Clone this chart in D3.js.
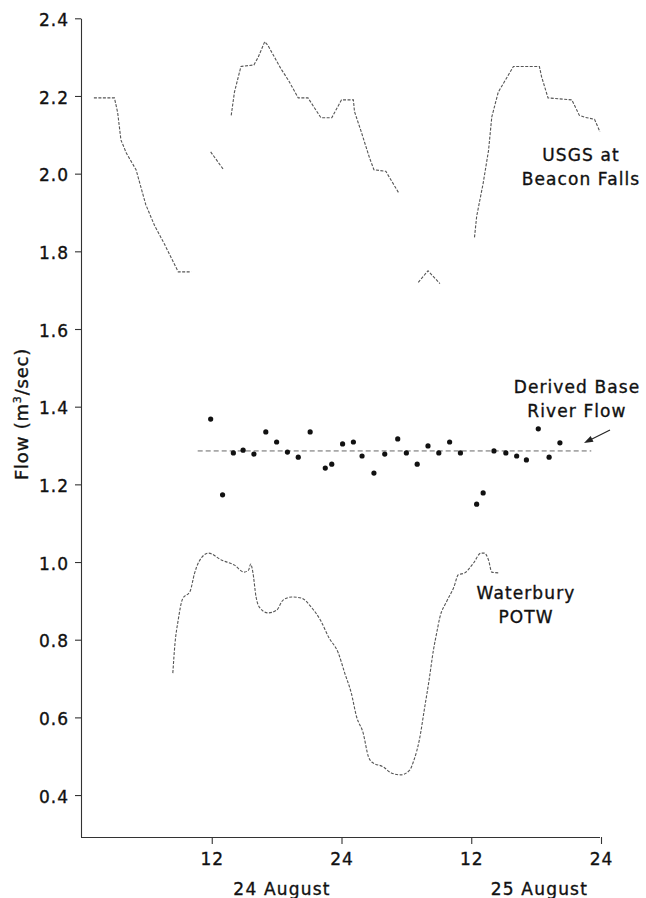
<!DOCTYPE html>
<html>
<head>
<meta charset="utf-8">
<script src="https://cdn.jsdelivr.net/npm/d3@7"></script>
<style>
  html, body { margin: 0; padding: 0; background: #fff; }
  svg text { font-family: "DejaVu Sans", "Liberation Sans", sans-serif; fill: #111; stroke: #111; stroke-width: 0.35px; }
</style>
</head>
<body>
<svg id="chart" width="646" height="898"></svg>
<script>
// Hours counted from 00:00 on 24 August; flows in m^3/sec.

// USGS gauge at Beacon Falls (null = missing record)
const usgsHours = [1.1, 3.0, 3.3, 3.6, 4.1, 5.0, 5.9, 6.7, 7.6, 8.9, 10.1, 11.0,
  11.9, 13.1, 13.5,
  13.8, 14.1, 14.7, 15.9, 16.3, 16.9, 17.2, 18.4, 19.1, 20.0, 20.9, 22.1, 23.1,
  24.0, 25.1, 25.2, 25.8, 26.6, 27.0, 28.1, 29.3, 30.2,
  31.1, 32.0, 33.1, 34.5,
  36.3, 36.5, 37.1, 37.6, 37.9, 38.5, 39.9, 42.3, 42.5, 43.1, 45.3, 46.0, 46.5, 47.4, 47.9];
const usgsFlow = [2.195, 2.195, 2.157, 2.087, 2.053, 2.01, 1.92, 1.867, 1.82, 1.747, 1.747, null,
  2.056, 2.01, null,
  2.15, 2.21, 2.276, 2.28, 2.30, 2.34, 2.33, 2.27, 2.24, 2.195, 2.195, 2.144, 2.144,
  2.19, 2.19, 2.16, 2.11, 2.04, 2.01, 2.006, 1.95, null,
  1.72, 1.75, 1.717, null,
  1.836, 1.89, 1.975, 2.06, 2.146, 2.21, 2.276, 2.276, 2.25, 2.195, 2.19, 2.15, 2.145, 2.14, 2.108];

// Waterbury POTW discharge
const potwHours = [8.4, 8.6, 8.9, 9.3, 10.0, 10.4, 10.8, 11.7, 12.9, 14.1, 15.0, 15.4, 15.6, 15.8,
  16.1, 16.4, 17.2, 18.0, 18.6, 19.4, 20.3, 21.2, 22.1, 22.8, 23.7, 24.3, 24.9, 25.4,
  26.0, 26.5, 26.8, 27.9, 28.6, 29.5, 30.3, 30.7, 31.2, 31.7, 32.1, 32.5, 32.8, 33.1,
  33.7, 34.4, 34.8, 35.4, 36.2, 36.9, 37.2, 37.6, 37.9, 38.6];
const potwFlow = [0.714, 0.79, 0.851, 0.905, 0.925, 0.97, 1.0, 1.023, 1.005, 0.992, 0.974, 0.979, 0.995, 0.974,
  0.91, 0.884, 0.869, 0.876, 0.902, 0.91, 0.907, 0.884, 0.848, 0.807, 0.766, 0.714, 0.663, 0.601,
  0.56, 0.498, 0.485, 0.472, 0.457, 0.452, 0.464, 0.49, 0.542, 0.627, 0.696, 0.773, 0.817, 0.858,
  0.897, 0.936, 0.967, 0.972, 0.997, 1.023, 1.023, 1.005, 0.974, 0.972];

// Derived base river flow: hourly estimates and the fitted constant
const baseHours = [11.9, 13.0, 14.0, 14.9, 15.9, 17.0, 18.0, 19.0, 20.0, 21.1, 22.5, 23.1,
  24.1, 25.1, 25.9, 27.0, 28.0, 29.2, 30.0, 31.0, 32.0, 33.0, 34.0, 35.0,
  36.5, 37.1, 38.1, 39.2, 40.2, 41.1, 42.2, 43.2, 44.2];
const baseFlow = [1.368, 1.173, 1.281, 1.288, 1.278, 1.335, 1.309, 1.283, 1.27, 1.335, 1.242, 1.252,
  1.304, 1.309, 1.273, 1.229, 1.278, 1.317, 1.281, 1.252, 1.299, 1.281, 1.309, 1.281,
  1.149, 1.178, 1.286, 1.281, 1.273, 1.263, 1.343, 1.27, 1.307];
const baseLineHours = [10.7, 47.1];
const baseLineFlow = 1.286;

// Axis ticks and labels
const yTicks = [0.4, 0.6, 0.8, 1.0, 1.2, 1.4, 1.6, 1.8, 2.0, 2.2, 2.4];
const xTicks = [12, 24, 36, 48];
const xTickLabels = ["12", "24", "12", "24"];
const dayLabels = ["24 August", "25 August"];
const dayLabelHours = [18.5, 42.3];

const svg = d3.select("#chart");

const x = d3.scaleLinear().domain([0, 48]).range([82, 601]);
const y = d3.scaleLinear().domain([0.292, 2.4]).range([837, 18.3]);

// Axes
const yAxis = svg.append("g")
  .attr("transform", "translate(81,0)")
  .call(d3.axisLeft(y).tickValues(yTicks).tickFormat(d3.format(".1f"))
    .tickSize(6).tickSizeOuter(0).tickPadding(6));
const xAxis = svg.append("g")
  .attr("transform", "translate(0,837)")
  .call(d3.axisBottom(x).tickValues(xTicks).tickFormat((d, i) => xTickLabels[i])
    .tickSize(7).tickSizeOuter(0).tickPadding(9));
xAxis.select(".domain").attr("d", `M81,0.5H${x(48) - 1}`);

[yAxis, xAxis].forEach(g => {
  g.select(".domain").attr("stroke", "#333").attr("stroke-width", 1.1);
  g.selectAll(".tick line").attr("stroke", "#333").attr("stroke-width", 1.1);
  g.selectAll("text").attr("font-size", 17).attr("letter-spacing", 1)
    .attr("font-family", "DejaVu Sans").attr("fill", "#111");
});
yAxis.selectAll(".tick text").attr("dy", "0.42em");

// Day labels under the hour ticks
svg.selectAll(".day").data(dayLabels).join("text")
  .attr("class", "day")
  .attr("x", (d, i) => x(dayLabelHours[i]))
  .attr("y", 895)
  .attr("text-anchor", "middle")
  .attr("font-size", 17).attr("letter-spacing", 1.2)
  .text(d => d);

// Vertical axis title
const yt = svg.append("text")
  .attr("transform", "translate(28,414) rotate(-90)")
  .attr("text-anchor", "middle")
  .attr("font-size", 18).attr("letter-spacing", 0.8);
yt.append("tspan").text("Flow (m");
yt.append("tspan").attr("font-size", 11).attr("dy", -7).text("3");
yt.append("tspan").attr("dy", 7).text("/sec)");

// Flow series
const usgs = usgsHours.map((h, i) => ({ h, v: usgsFlow[i] }));
const potw = potwHours.map((h, i) => ({ h, v: potwFlow[i] }));

const lineLinear = d3.line().defined(d => d.v != null).x(d => x(d.h)).y(d => y(d.v));
const lineSmooth = d3.line().x(d => x(d.h)).y(d => y(d.v)).curve(d3.curveMonotoneX);

svg.append("path").datum(usgs)
  .attr("d", lineLinear)
  .attr("fill", "none").attr("stroke", "#555").attr("stroke-width", 1.1)
  .attr("stroke-dasharray", "3,1.5");

svg.append("path").datum(potw)
  .attr("d", lineSmooth)
  .attr("fill", "none").attr("stroke", "#555").attr("stroke-width", 1.1)
  .attr("stroke-dasharray", "3,1.5");

// Constant base flow line
svg.append("line")
  .attr("x1", x(baseLineHours[0])).attr("x2", x(baseLineHours[1]))
  .attr("y1", y(baseLineFlow)).attr("y2", y(baseLineFlow))
  .attr("stroke", "#666").attr("stroke-width", 1)
  .attr("stroke-dasharray", "5,3");

// Hourly base-flow estimates
svg.selectAll(".pt").data(baseHours).join("circle")
  .attr("class", "pt")
  .attr("cx", d => x(d))
  .attr("cy", (d, i) => y(baseFlow[i]))
  .attr("r", 2.6)
  .attr("fill", "#111");

// Series labels
const labels = [
  { lines: ["USGS at", "Beacon Falls"], cx: 581, y0: 161 },
  { lines: ["Derived Base", "River Flow"], cx: 577, y0: 393 },
  { lines: ["Waterbury", "POTW"], cx: 526, y0: 599 }
];
labels.forEach(l => {
  l.lines.forEach((t, i) => {
    svg.append("text")
      .attr("x", l.cx).attr("y", l.y0 + i * 23.5)
      .attr("text-anchor", "middle")
      .attr("font-size", 17).attr("letter-spacing", 1.1)
      .text(t);
  });
});

// Arrow pointing from the label to the base flow line
const ax1 = 610, ay1 = 430, ax2 = 584, ay2 = 443;
svg.append("line")
  .attr("x1", ax1).attr("y1", ay1).attr("x2", ax2 + 5).attr("y2", ay2 - 2.5)
  .attr("stroke", "#222").attr("stroke-width", 1.2);
const ang = Math.atan2(ay2 - ay1, ax2 - ax1);
const hl = 9, hw = 3.2;
const bx = ax2 - hl * Math.cos(ang), by = ay2 - hl * Math.sin(ang);
svg.append("path")
  .attr("d", `M${ax2},${ay2}L${bx + hw * Math.sin(ang)},${by - hw * Math.cos(ang)}L${bx - hw * Math.sin(ang)},${by + hw * Math.cos(ang)}Z`)
  .attr("fill", "#222");
</script>
</body>
</html>
